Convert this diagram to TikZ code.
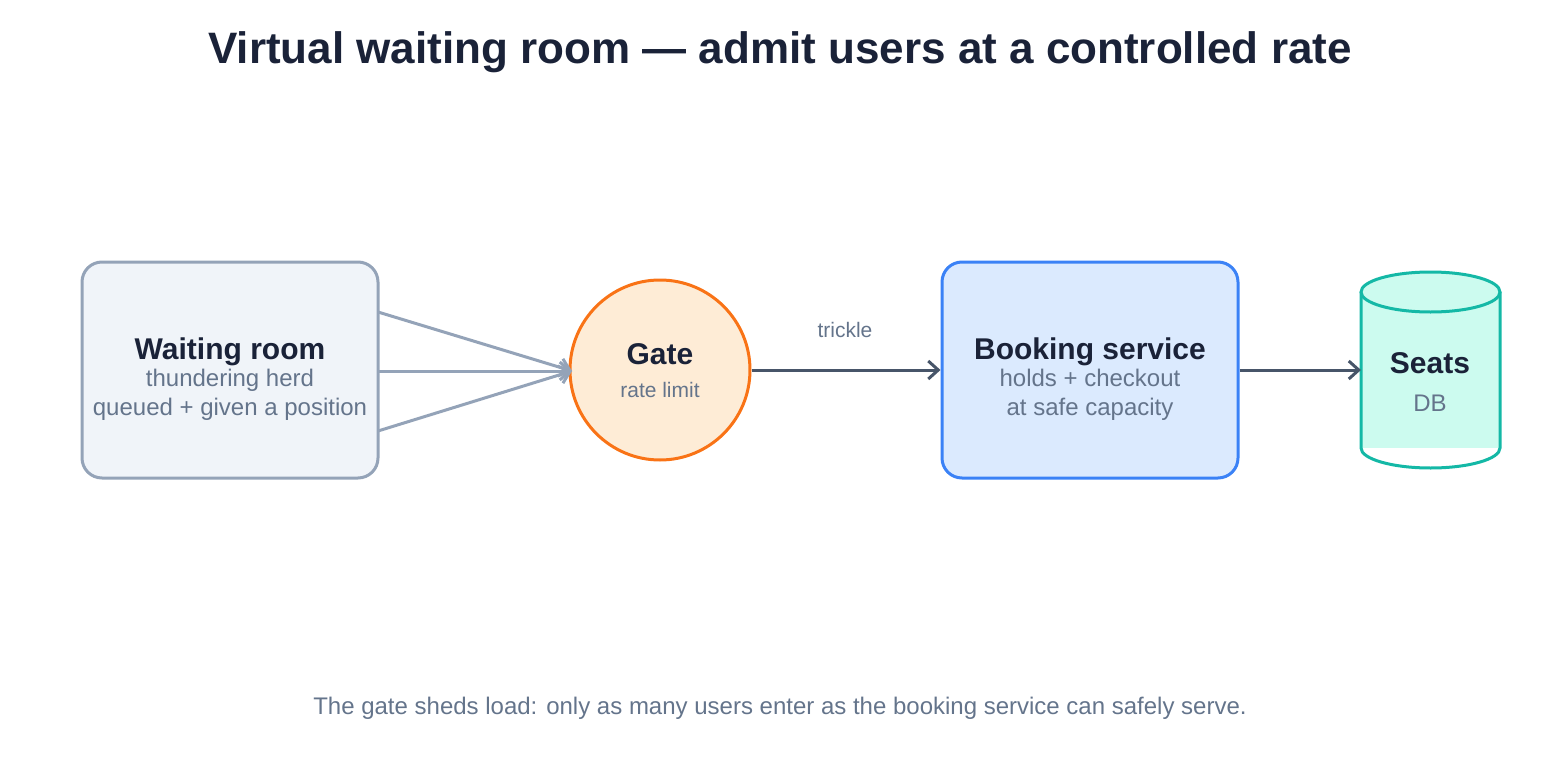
\documentclass[tikz,border=0pt]{standalone}
\usepackage{fontspec}
\setmainfont{Liberation Sans}
\usetikzlibrary{arrows.meta}
\definecolor{ink}{HTML}{1A2238}
\definecolor{sub}{HTML}{64748B}
\definecolor{wrs}{HTML}{94A3B8}\definecolor{wrf}{HTML}{F0F4F9}
\definecolor{gts}{HTML}{F97316}\definecolor{gtf}{HTML}{FEECD6}
\definecolor{bks}{HTML}{3B82F6}\definecolor{bkf}{HTML}{DBEAFE}
\definecolor{dbs}{HTML}{14B8A6}\definecolor{dbf}{HTML}{CCFBEF}
\definecolor{arr}{HTML}{475569}
\begin{document}
\begin{tikzpicture}[x=0.5pt,y=-0.5pt,
  head/.style={font=\bfseries\fontsize{15}{17}\selectfont,text=ink},
  subt/.style={font=\fontsize{12}{14.5}\selectfont,text=sub,align=center},
  box/.style={draw,line width=1.5pt,rounded corners=10pt,minimum width=148pt,minimum height=108pt},
  conn/.style={line width=1.5pt,-{Straight Barb[length=5pt,width=9pt]}}]
\useasboundingbox (0,0) rectangle (1560,760);
\node[font=\bfseries\fontsize{22}{25}\selectfont,text=ink] (title) at (780,52) {Virtual waiting room — admit users at a controlled rate};
% waiting room
\node[box,draw=wrs,fill=wrf] (wr) at (230,370) {};
\node[head] (wrh) at (230,352) {Waiting room};
\node[subt] (wrs) at (230,395) {thundering herd\\queued + given a position};
% gate
\node[circle,draw=gts,fill=gtf,line width=1.5pt,minimum size=90pt] (gate) at (660,370) {};
\node[head] (gth) at (660,354) {Gate};
\node[subt,font=\fontsize{10.5}{12}\selectfont] (gts) at (660,390) {rate limit};
% booking
\node[box,draw=bks,fill=bkf] (bk) at (1090,370) {};
\node[head] (bkh) at (1090,352) {Booking service};
\node[subt] (bks) at (1090,395) {holds + checkout\\at safe capacity};
% db
\fill[dbf] (1361,292) rectangle (1500,448);
\draw[dbs,line width=1.5pt] (1361,292) -- (1361,448) arc[start angle=180,end angle=0,x radius=69.5,y radius=20] -- (1500,292);
\draw[dbs,fill=dbf,line width=1.5pt] (1430.5,292) ellipse[x radius=69.5,y radius=20];
\coordinate (db) at (1361,370);
\node[head] (dbh) at (1430,363) {Seats};
\node[subt] (dbt) at (1430,403) {DB};
% connectors
\coordinate (gin) at (572,371);
\coordinate (w1) at (378,312);\coordinate (w2) at (378,371);\coordinate (w3) at (378,431);
\draw[conn,wrs] (w1) -- (gin);
\draw[conn,wrs] (w2) -- (gin);
\draw[conn,wrs] (w3) -- (gin);
\draw[conn,arr] (gate.east) -- (bk.west);
\node[font=\fontsize{10.5}{12}\selectfont,text=sub] (tr) at (845,330) {trickle};
\draw[conn,arr] (bk.east) -- (db);
\node[font=\fontsize{12}{14}\selectfont,text=sub] (foot) at (780,708) {The gate sheds load: only as many users enter as the booking service can safely serve.};
\end{tikzpicture}
\end{document}
